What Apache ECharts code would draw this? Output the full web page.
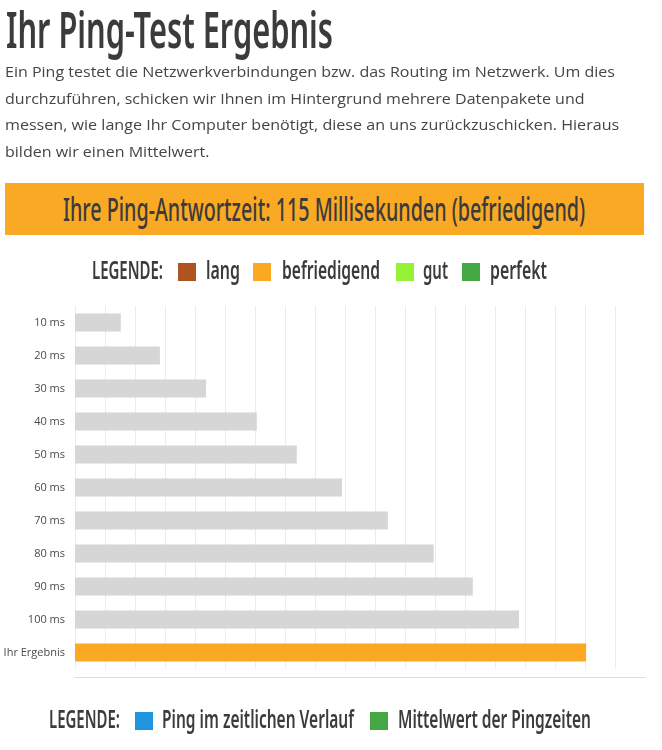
<!DOCTYPE html>
<html lang="de">
<head>
<meta charset="utf-8">
<script src="https://cdn.jsdelivr.net/npm/echarts@6/dist/echarts.min.js"></script>
<style>
  html, body { margin:0; padding:0; background:#fff; }
  body { width:662px; height:750px; overflow:hidden; position:relative; }
  #chart { position:absolute; left:0; top:0; width:662px; height:750px; }
  .narrow { font-family:"Noto Sans",sans-serif; font-stretch:62.5%; }
  .fit { position:absolute; white-space:nowrap; transform-origin:0 0; z-index:2; color:#3b3b3b; }
  #title { left:6px; top:4px; font-size:50px; line-height:50px; font-weight:600; }
  #intro { position:absolute; left:5px; top:58px; z-index:2; font-family:"Open Sans",sans-serif; font-size:15px; line-height:26.7px; color:#454545; }
  #intro div { white-space:nowrap; transform-origin:0 0; }
  #banner { position:absolute; left:5px; top:183px; width:639px; height:52px; background:#faa925; z-index:1; }
  #bannerText { top:192px; font-size:33px; line-height:33px; font-weight:500; }
</style>
</head>
<body>
<div id="chart"></div>
<div id="title" class="fit narrow">Ihr Ping-Test Ergebnis</div>
<div id="intro">
  <div data-w="610">Ein Ping testet die Netzwerkverbindungen bzw. das Routing im Netzwerk. Um dies</div>
  <div data-w="580">durchzuführen, schicken wir Ihnen im Hintergrund mehrere Datenpakete und</div>
  <div data-w="614">messen, wie lange Ihr Computer benötigt, diese an uns zurückzuschicken. Hieraus</div>
  <div data-w="204">bilden wir einen Mittelwert.</div>
</div>
<div id="banner"></div>
<div id="bannerText" class="fit narrow">Ihre Ping-Antwortzeit: 115 Millisekunden (befriedigend)</div>
<script>
// ---- data ----
const categories = ['10 ms','20 ms','30 ms','40 ms','50 ms','60 ms','70 ms','80 ms','90 ms','100 ms','Ihr Ergebnis'];
const pingValues = [10.3, 19.1, 29.5, 40.9, 49.9, 60.1, 70.4, 80.7, 89.5, 99.9, 115];
const legendTitle = 'LEGENDE:';
const ratingNames = ['lang', 'befriedigend', 'gut', 'perfekt'];
const historyNames = ['Ping im zeitlichen Verlauf', 'Mittelwert der Pingzeiten'];
const axisMax = 128.25;
const axisStep = 6.75;

// ---- styles / layout ----
const NARROW_FONT = '600 25px "Noto Sans", sans-serif';
const GRAY = '#d6d6d6';
const ORANGE = '#fba823';
const ratingColors = ['#b0541f', '#fba823', '#96f236', '#43a843'];
const historyColors = ['#1e95dc', '#43a843'];
const TEXT = '#3b3b3b';
// legend rows: icon left edges, label left edges and label widths (px)
const topRow = { y: 272, titleX: 92, titleW: 71, icons: [178, 253, 396, 462], labelX: [206, 282, 423, 490], labelW: [34, 98, 25, 57] };
const bottomRow = { y: 721, titleX: 49, titleW: 71, icons: [135, 370], labelX: [162, 398], labelW: [192, 193] };

function fitWidth(el, w) {
  el.style.display = 'inline-block';
  const r = w / el.scrollWidth;
  el.style.transform = 'scaleX(' + r + ')';
}
fitWidth(document.getElementById('title'), 327);
document.querySelectorAll('#intro div').forEach(d => fitWidth(d, +d.dataset.w));
const bt = document.getElementById('bannerText');
fitWidth(bt, 522);
bt.style.left = (324 - 261) + 'px';

const measureCtx = document.createElement('canvas').getContext('2d');
function narrowText(text, x, y, w) {
  measureCtx.font = NARROW_FONT;
  const s = w / measureCtx.measureText(text).width;
  return { type: 'text', x: x, y: y, scaleX: s, silent: true,
           style: { text: text, font: NARROW_FONT, fill: TEXT, verticalAlign: 'middle' } };
}

function legendIcons(names, row) {
  return names.map((n, i) => ({
    data: [n], left: row.icons[i], top: row.y - 9, padding: 0, itemGap: 0,
    itemWidth: 18, itemHeight: 18, icon: 'rect', selectedMode: false,
    formatter: () => ' ', textStyle: { fontSize: 10, lineHeight: 18 }
  }));
}
function legendTexts(names, row) {
  return [narrowText(legendTitle, row.titleX, row.y, row.titleW)]
    .concat(names.map((n, i) => narrowText(n, row.labelX[i], row.y, row.labelW[i])));
}

const chart = echarts.init(document.getElementById('chart'), null, { renderer: 'canvas' });

const option = {
  animation: false,
  grid: { left: 75, width: 570, top: 306, height: 363, containLabel: false },
  xAxis: {
    type: 'value', min: 0, max: axisMax, interval: axisStep, offset: 8,
    axisLabel: { show: false }, axisTick: { show: false },
    axisLine: { show: true, lineStyle: { color: '#dedede', width: 1 } },
    splitLine: { show: true, showMaxLine: false, lineStyle: { color: '#ececec', width: 1 } }
  },
  yAxis: {
    type: 'category', data: categories, inverse: true,
    axisLine: { show: false }, axisTick: { show: false },
    axisLabel: { margin: 10, fontFamily: '"Open Sans",sans-serif', fontSize: 11, color: '#4a4a4a' }
  },
  legend: [...legendIcons(ratingNames, topRow), ...legendIcons(historyNames, bottomRow)],
  graphic: [...legendTexts(ratingNames, topRow), ...legendTexts(historyNames, bottomRow)],
  series: [
    {
      type: 'bar', name: 'Ping', barWidth: 18, silent: true,
      data: pingValues.map((v, i) => ({ value: v, itemStyle: { color: i === pingValues.length - 1 ? ORANGE : GRAY } }))
    },
    ...ratingNames.map((n, i) => ({ type: 'scatter', name: n, data: [], itemStyle: { color: ratingColors[i], opacity: 1 } })),
    ...historyNames.map((n, i) => ({ type: 'scatter', name: n, data: [], itemStyle: { color: historyColors[i], opacity: 1 } }))
  ]
};
chart.setOption(option);
</script>
</body>
</html>
